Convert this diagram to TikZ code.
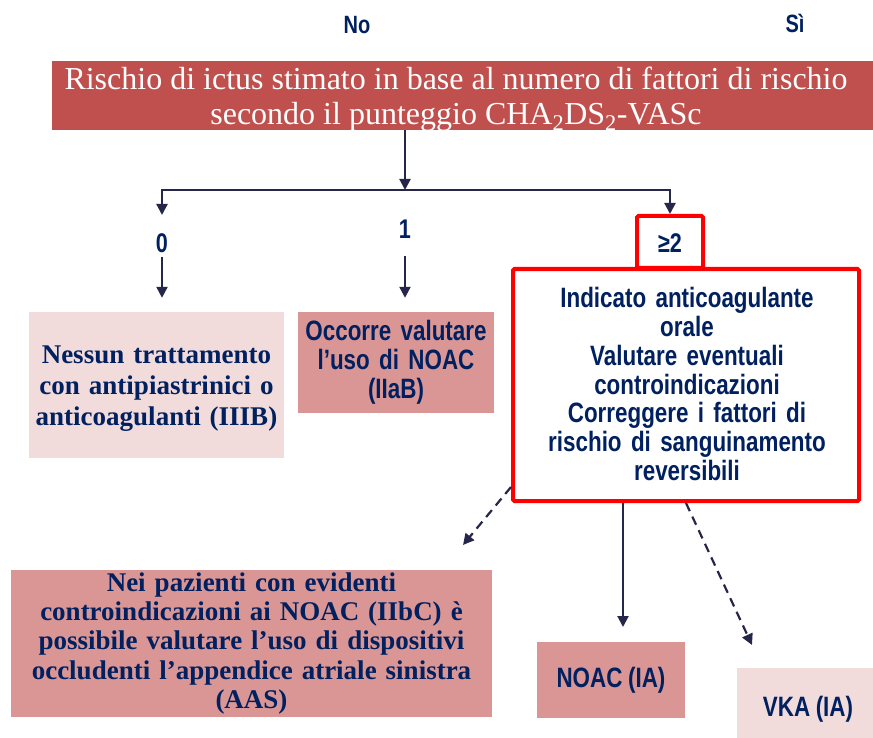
\documentclass[tikz,border=0pt]{standalone}
\usepackage{fontspec}
\setmainfont{Liberation Serif}
\newfontfamily\narrowsans[FakeStretch=0.8]{Liberation Sans}
\usetikzlibrary{arrows.meta}

\definecolor{titlered}{RGB}{192,80,77}
\definecolor{midpink}{RGB}{217,150,148}
\definecolor{lightpink}{RGB}{242,220,219}
\definecolor{navytext}{RGB}{0,32,96}
\definecolor{arrowcol}{RGB}{38,38,75}
\definecolor{alertred}{RGB}{255,0,0}

% condensed bold sans with a matching, narrower word space
\newcommand\narrowbold[2]{\narrowsans\bfseries\fontsize{#1}{#2}\selectfont\fontdimen2\font=0.2\fontdimen6\font}

\tikzset{
  sanslabel/.style={font=\narrowbold{27}{29}, text=navytext, align=center, inner sep=3pt},
  serifbox/.style={font=\bfseries\fontsize{27}{31}\selectfont, text=navytext, align=center, inner sep=0pt},
  sansbox/.style={font=\narrowbold{28}{28.8}, text=navytext, align=center, inner sep=0pt},
  lightbox/.style={fill=lightpink},
  midbox/.style={fill=midpink},
  redframe/.style={draw=alertred, line width=4pt, rounded corners=1.5pt, fill=white},
  arr/.style={draw=arrowcol, line width=2.2pt, -{Triangle[width=11pt,length=11pt]}},
  darr/.style={arr, dash pattern=on 9pt off 6pt},
}

\begin{document}
\begin{tikzpicture}[x=1pt, y=-1pt]
\useasboundingbox (0,0) rectangle (873,738);

% header labels
\node[sanslabel, font=\narrowbold{25}{27}] (no) at (357,25) {No};
\node[sanslabel, font=\narrowbold{25}{27}] (si) at (795,23) {Sì};

% title band (runs off the right edge) and its text
\node[fill=titlered, minimum width=830, minimum height=69, inner sep=0pt, anchor=north west] (band) at (52,61) {};
\node[text=white, font=\fontsize{32}{35}\selectfont, align=center, inner sep=0pt] (title) at (456,99)
  {Rischio di ictus stimato in base al numero di fattori di rischio\\
   secondo il punteggio CHA\textsubscript{2}DS\textsubscript{2}-VASc};

% branching
\coordinate (split) at (405,190);
\coordinate (c0) at (162,215);
\draw[arr] (band.south -| split) -- (split);
\draw[arr] (split) -| (c0);

% score labels
\node[sanslabel] (lab0) at (162,243) {0};
\node[sanslabel] (lab1) at (405,229) {1};

% result boxes of the first level
\node[lightbox, minimum width=255, minimum height=146, inner sep=0pt] (nessun) at (156.5,385) {};
\node[serifbox, text width=250] (nessuntext) at (156.5,389)
  {Nessun trattamento\\con antipiastrinici o\\anticoagulanti (IIIB)};
\node[midbox, sansbox, minimum width=196, minimum height=101, text width=190] (occorre) at (396,362.5)
  {Occorre valutare\\l’uso di NOAC\\(IIaB)};

\draw[arr, shorten >=14pt] ([yshift=-1pt]lab0.south) -- (lab0.south |- nessun.north);
\draw[arr, shorten >=14pt] (lab1 |- lab0.south) -- (lab1 |- occorre.north);

% framed boxes for score >= 2
\node[redframe, minimum width=346, minimum height=232, inner sep=0pt] (big) at (686,385) {};
\node[sansbox, text width=330] (bigtext) at (687,384)
  {Indicato anticoagulante\\orale\\Valutare eventuali\\controindicazioni\\Correggere i fattori di\\rischio di sanguinamento\\reversibili};
\node[redframe, minimum width=66, minimum height=52, inner sep=0pt] (ge2) at (670,242) {};
\node[sanslabel] (ge2text) at (670,243) {≥2};
\draw[arr] (split) -| (ge2.north);

% second level boxes
\node[midbox, serifbox, minimum width=481, minimum height=147, text width=470,
      font=\bfseries\fontsize{27}{29.3}\selectfont] (aas) at (251.5,643.5)
  {Nei pazienti con evidenti\\controindicazioni ai NOAC (IIbC) è\\possibile valutare l’uso di dispositivi\\occludenti l’appendice atriale sinistra\\(AAS)};
\node[midbox, sansbox, minimum width=148, minimum height=76] (noac) at (611,680) {NOAC (IA)};
\node[lightbox, minimum width=142, minimum height=74, inner sep=0pt] (vka) at (808,705) {};
\node[sansbox] (vkatext) at (808,709) {VKA (IA)};

% connectors from the framed box
\coordinate (tipaas) at (463,545);
\coordinate (tipnoac) at (623,627);
\coordinate (tipvka) at (752,645);
\draw[darr] ([yshift=16pt]big.south west) -- (tipaas);
\draw[arr] (big.south -| tipnoac) -- (tipnoac);
\draw[darr] (big.south) -- (tipvka);
\end{tikzpicture}
\end{document}
